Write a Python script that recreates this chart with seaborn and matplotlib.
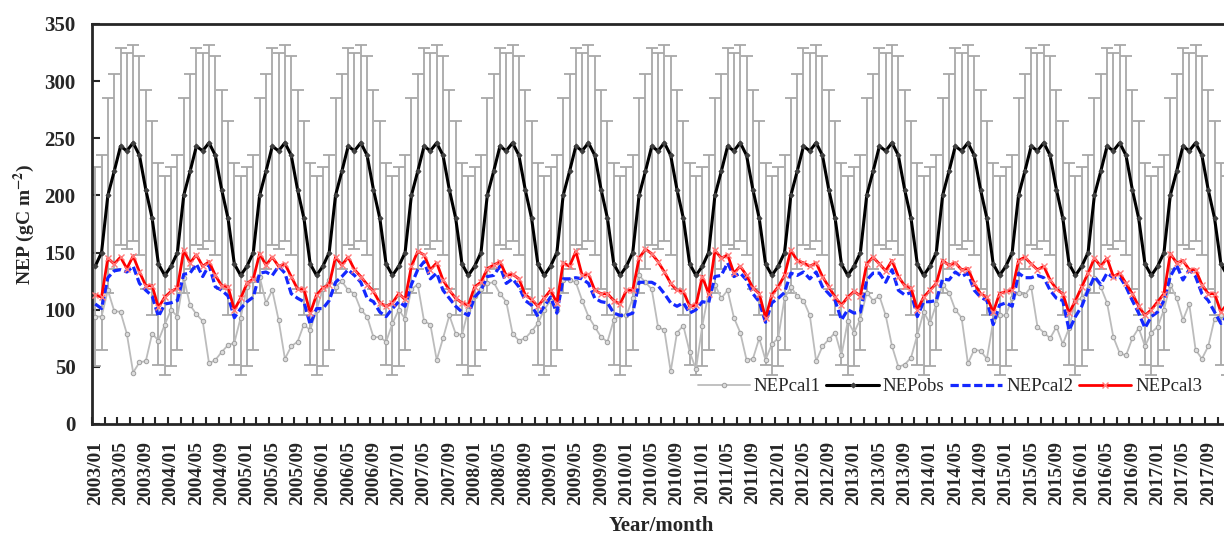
import numpy as np
import pandas as pd
import matplotlib
matplotlib.use('Agg')
import matplotlib.pyplot as plt
import seaborn as sns

# Data (monthly, 2003/01 - 2017/12)
years = list(range(2003, 2018))

# NEPobs: monthly mean and SD, same every year
obs_mean = [138, 150, 200, 221, 243, 239, 246, 235, 205, 180, 140, 130]
obs_sd = [87, 85, 85, 85, 86, 86, 86, 87, 87, 85, 88, 87]

cal1 = [
    94, 94, 117, 99, 98, 79, 45, 54, 55, 79, 73, 87,
    100, 94, 128, 104, 96, 90, 53, 56, 63, 69, 71, 93,
    120, 126, 129, 106, 117, 91, 57, 68, 72, 87, 82, 100,
    118, 126, 120, 125, 117, 114, 100, 94, 76, 76, 72, 88,
    100, 92, 118, 122, 90, 87, 56, 75, 95, 79, 78, 100,
    112, 118, 123, 124, 114, 107, 79, 73, 75, 81, 88, 100,
    108, 100, 126, 126, 124, 108, 94, 85, 76, 72, 91, 95,
    95, 110, 130, 124, 118, 85, 82, 46, 80, 86, 63, 48,
    86, 115, 122, 110, 117, 93, 80, 56, 57, 75, 56, 70,
    75, 110, 120, 112, 108, 95, 55, 68, 74, 80, 60, 90,
    80, 92, 115, 108, 112, 95, 68, 50, 52, 58, 78, 98,
    88, 105, 122, 115, 100, 93, 53, 65, 64, 57, 90, 95,
    95, 110, 115, 113, 120, 85, 80, 75, 85, 70, 84, 108,
    110, 118, 128, 120, 106, 76, 62, 60, 75, 84, 68, 80,
    85, 100, 122, 110, 91, 105, 65, 57, 68, 92, 95, 90,
]

cal2 = [
    105, 101, 128, 134, 135, 133, 138, 123, 117, 112, 94, 105,
    106, 108, 131, 132, 140, 129, 139, 120, 117, 112, 93, 101,
    107, 111, 132, 133, 130, 138, 132, 114, 110, 107, 87, 101,
    101, 108, 124, 129, 135, 130, 124, 110, 107, 98, 94, 101,
    107, 103, 122, 135, 142, 127, 132, 117, 110, 103, 98, 95,
    111, 117, 129, 130, 138, 123, 127, 120, 108, 104, 94, 103,
    111, 97, 127, 127, 128, 127, 123, 110, 107, 106, 97, 95,
    95, 97, 124, 124, 124, 121, 114, 106, 103, 106, 97, 100,
    107, 106, 129, 130, 141, 129, 132, 126, 114, 107, 89, 106,
    110, 115, 132, 130, 133, 127, 133, 120, 114, 108, 91, 100,
    97, 98, 126, 132, 132, 124, 135, 117, 113, 115, 94, 107,
    107, 108, 127, 126, 133, 129, 132, 117, 111, 108, 87, 104,
    106, 103, 132, 128, 128, 130, 128, 117, 110, 108, 82, 94,
    103, 117, 129, 122, 132, 128, 129, 120, 108, 97, 84, 94,
    98, 108, 129, 139, 126, 135, 129, 114, 108, 98, 88, 95,
]

cal3 = [
    113, 111, 145, 140, 146, 136, 147, 133, 121, 121, 102, 111,
    116, 119, 152, 141, 148, 138, 142, 130, 121, 120, 100, 110,
    123, 127, 149, 139, 146, 138, 140, 129, 118, 118, 97, 113,
    119, 122, 146, 139, 146, 135, 129, 122, 116, 106, 103, 106,
    114, 109, 138, 151, 148, 135, 141, 126, 117, 110, 106, 104,
    120, 124, 136, 139, 142, 130, 131, 127, 113, 109, 103, 110,
    117, 106, 141, 138, 151, 130, 131, 117, 114, 114, 108, 105,
    117, 117, 145, 153, 149, 142, 133, 123, 117, 116, 103, 104,
    129, 114, 152, 145, 148, 132, 138, 130, 119, 114, 93, 113,
    120, 130, 152, 143, 141, 138, 141, 129, 120, 111, 104, 111,
    116, 112, 140, 146, 140, 134, 143, 129, 121, 119, 100, 111,
    117, 123, 143, 139, 141, 135, 136, 123, 114, 111, 98, 114,
    116, 117, 143, 146, 140, 135, 138, 126, 118, 114, 97, 108,
    120, 132, 145, 138, 145, 129, 132, 123, 114, 103, 95, 100,
    107, 114, 149, 141, 143, 135, 135, 122, 114, 114, 98, 105,
]

labels = [f"{y}/{m:02d}" for y in years for m in range(1, 13)]

df = pd.DataFrame({
    'month': np.arange(len(labels)),
    'label': labels,
    'NEPcal1': cal1,
    'NEPobs': np.tile(obs_mean, len(years)),
    'sd': np.tile(obs_sd, len(years)),
    'NEPcal2': cal2,
    'NEPcal3': cal3,
})

sns.set_style('ticks')
plt.rcParams['font.family'] = ['Liberation Serif', 'DejaVu Serif']
plt.rcParams['mathtext.fontset'] = 'stix'

fig = plt.figure(figsize=(12.24, 5.35), dpi=100)
ax = fig.add_axes([0.0752, 0.2075, 0.93, 0.7477])

# error bars of the observations
ax.errorbar(df['month'], df['NEPobs'], yerr=df['sd'], fmt='none',
            ecolor='#a8a8a8', elinewidth=1.3, capsize=4, capthick=1.3, zorder=1)

sns.lineplot(data=df, x='month', y='NEPcal1', ax=ax, color='#bcbcbc', lw=1.3,
             marker='o', markersize=3.2, markerfacecolor='#dcdcdc',
             markeredgecolor='#a0a0a0', label='NEPcal1', zorder=2)
sns.lineplot(data=df, x='month', y='NEPobs', ax=ax, color='black', lw=2.2,
             marker='D', markersize=2.5, markerfacecolor='#404040',
             markeredgecolor='#404040', label='NEPobs', zorder=4)
sns.lineplot(data=df, x='month', y='NEPcal2', ax=ax, color='#1428ff', lw=2.3,
             linestyle=(0, (2.6, 1.1)), label='NEPcal2', zorder=3)
sns.lineplot(data=df, x='month', y='NEPcal3', ax=ax, color='#ff0000', lw=2.0,
             marker='x', markersize=4, markeredgecolor='#ff7a7a',
             markeredgewidth=1, label='NEPcal3', zorder=5)

ax.set_ylim(0, 350)
ax.set_yticks(range(0, 351, 50))
ax.set_xlim(-0.5, 178.1)
ax.set_xticks(df['month'][::4])
ax.set_xticklabels(df['label'][::4], rotation=90)
ax.set_xticks(np.arange(-0.5, 180, 2), minor=True)

ax.tick_params(axis='x', which='major', length=0, pad=12, labelsize=14)
ax.tick_params(axis='x', which='minor', direction='in', length=5, width=1.5)
ax.tick_params(axis='y', direction='in', length=6, width=1.5, pad=12, labelsize=15)
for t in ax.get_xticklabels() + ax.get_yticklabels():
    t.set_fontweight('bold')

for s in ['left', 'bottom', 'top']:
    ax.spines[s].set_linewidth(2)
ax.spines['right'].set_visible(False)

ax.set_ylabel(r'NEP (gC m$^{\mathbf{-2}}$)', fontsize=14, fontweight='bold', labelpad=5)
ax.set_xlabel('Year/month', fontsize=15, fontweight='bold', labelpad=8)

ax.legend(loc='lower right', bbox_to_anchor=(0.99, 0.03), ncol=4, frameon=False,
          fontsize=13.5, handlelength=2.8, handletextpad=0.2, columnspacing=0.3)

fig.savefig('out.png', dpi=100)
